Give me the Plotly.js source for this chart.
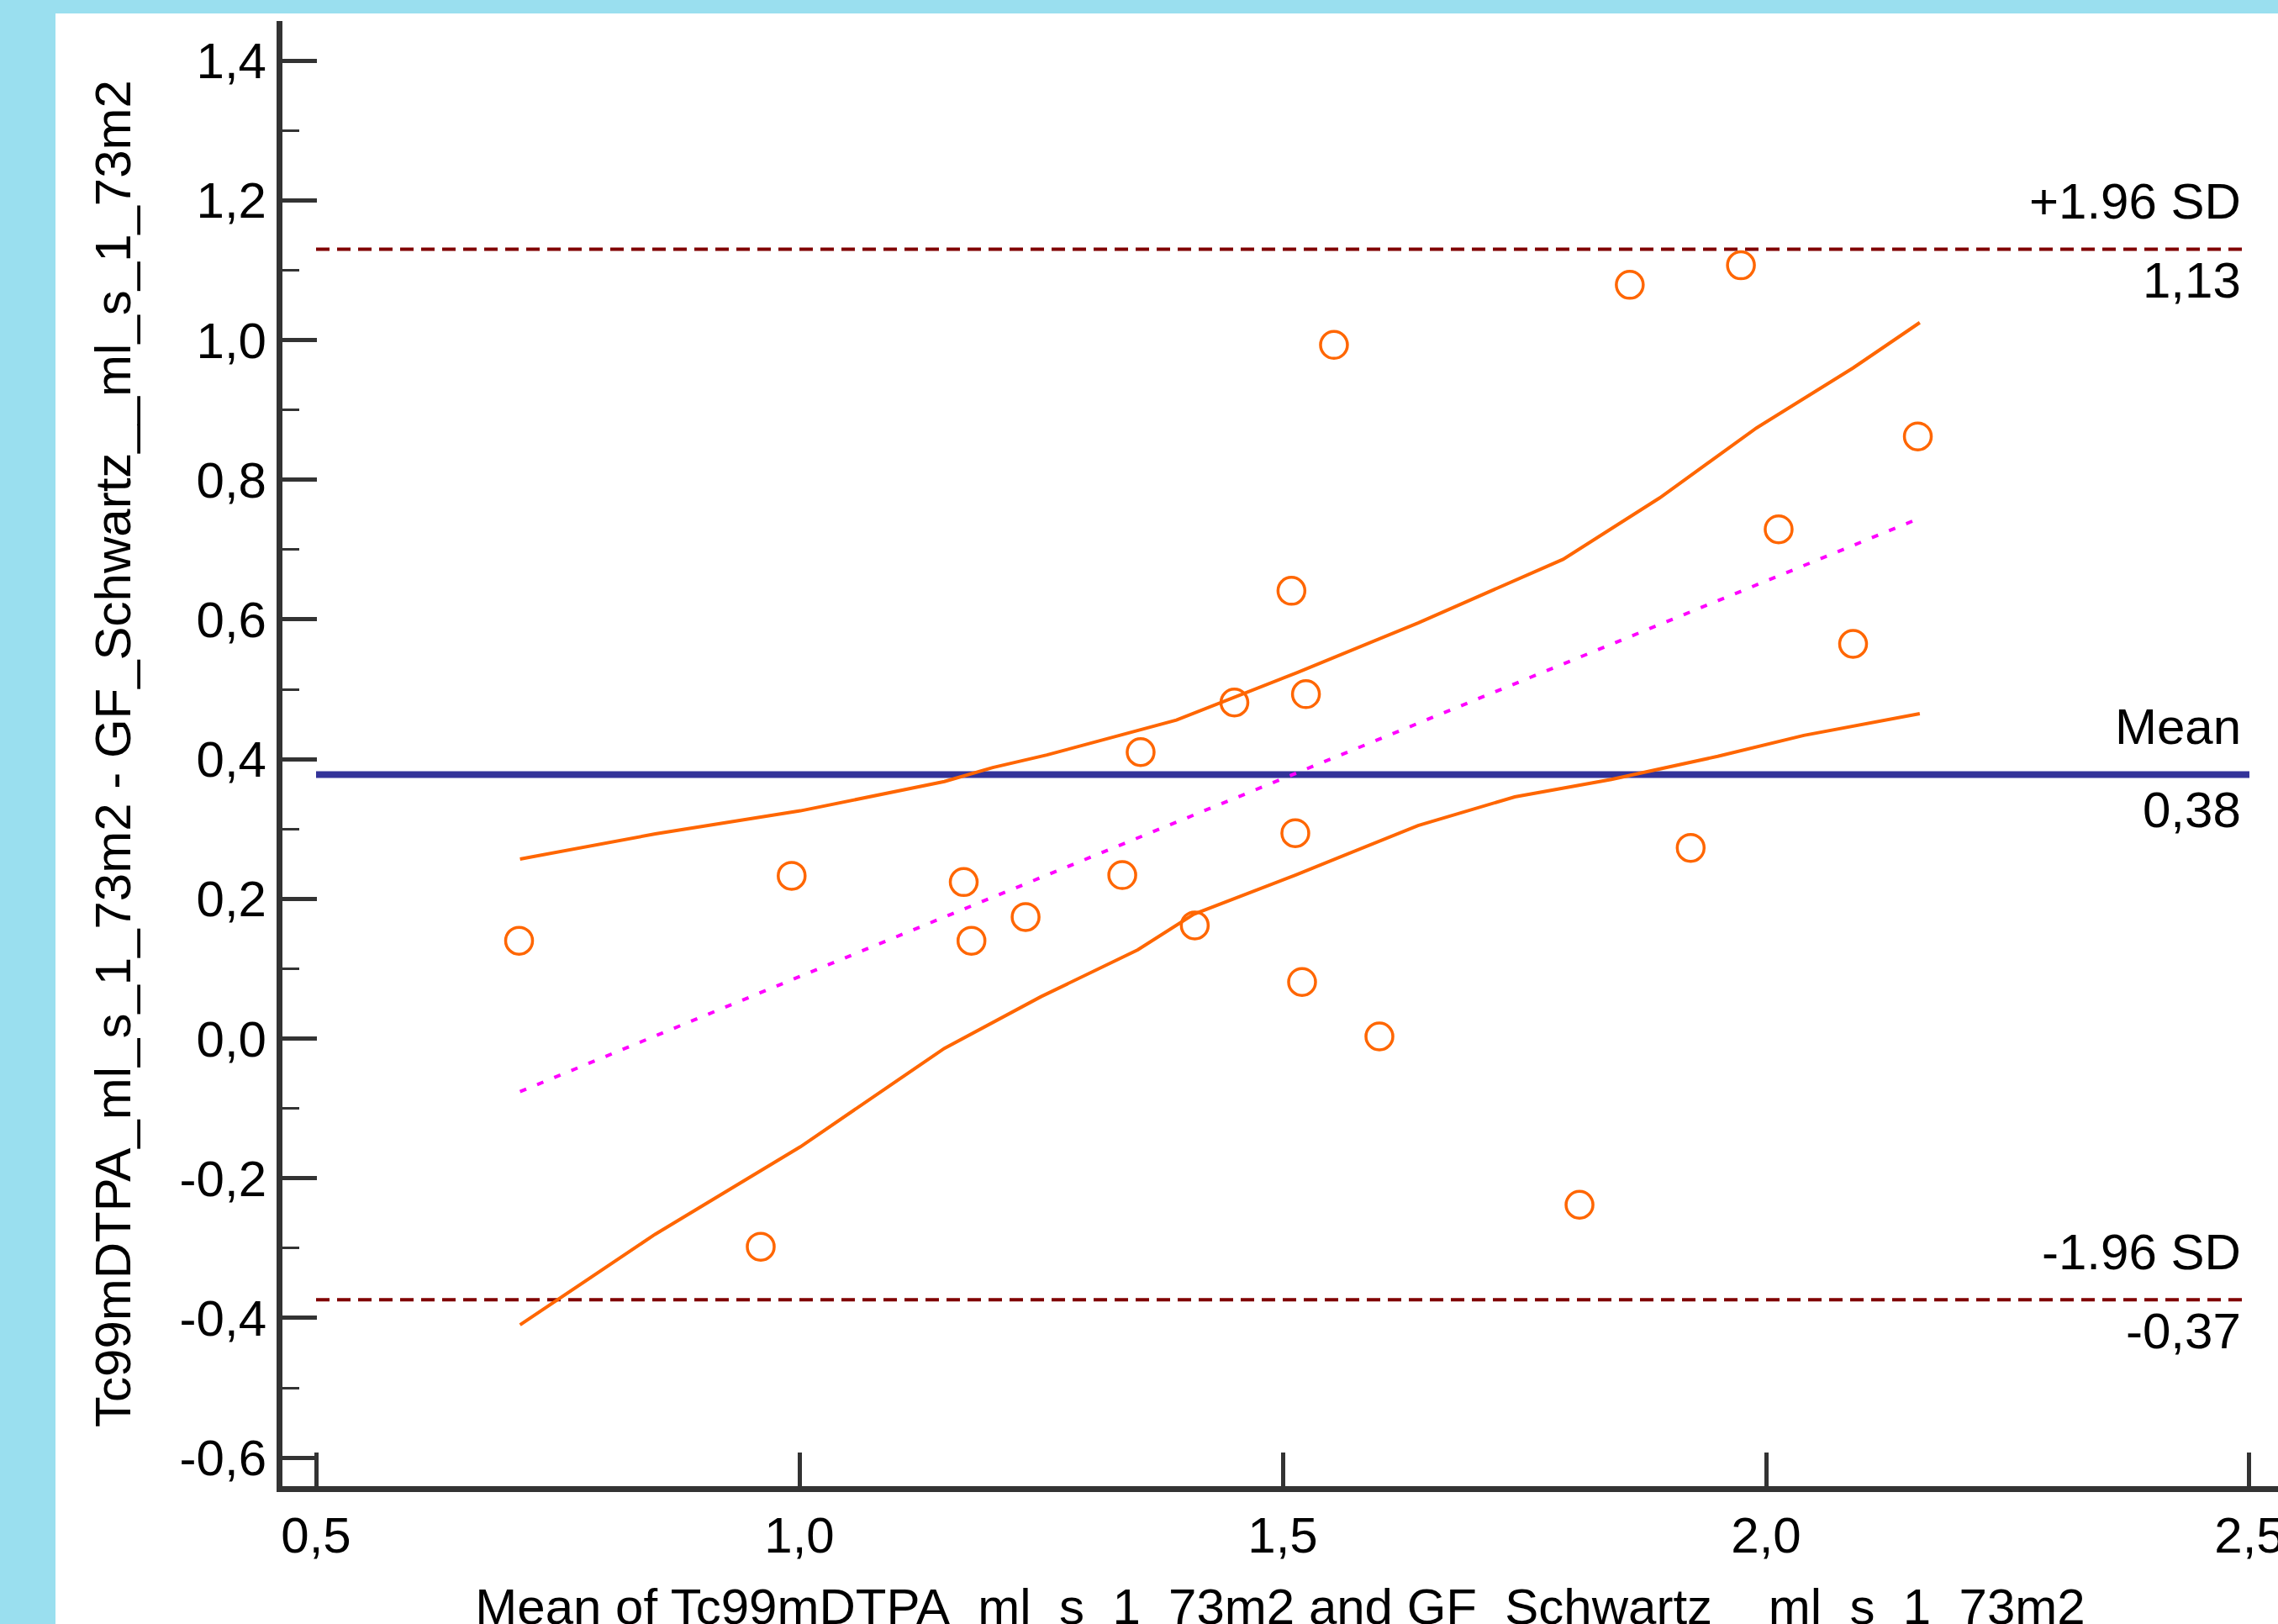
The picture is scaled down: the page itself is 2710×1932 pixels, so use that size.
<!DOCTYPE html>
<html>
<head>
<meta charset="utf-8">
<script src="https://cdn.plot.ly/plotly-3.0.1.min.js"></script>
<style>
  html, body { margin: 0; padding: 0; background: #9ADFEF; width: 2710px; height: 1932px; overflow: hidden; }
  #chart { position: absolute; left: 66px; top: 16px; width: 2720px; height: 2000px; background: #ffffff; }
</style>
</head>
<body>
<div id="chart"></div>
<script>
// Bland-Altman data
const meanValues = [0.710, 0.960, 0.992, 1.170, 1.178, 1.234, 1.334, 1.353, 1.409, 1.450, 1.509, 1.513, 1.520, 1.524, 1.553, 1.600, 1.807, 1.859, 1.922, 1.974, 2.013, 2.090, 2.157];
const diffValues = [0.140, -0.298, 0.233, 0.224, 0.140, 0.174, 0.234, 0.410, 0.162, 0.481, 0.641, 0.294, 0.081, 0.493, 0.993, 0.003, -0.238, 1.079, 0.273, 1.107, 0.729, 0.565, 0.862];

// Regression line of differences
const regX = [0.711, 1.150, 2.159];
const regY = [-0.076, 0.174, 0.745];

// 95% confidence band of the regression line
const upperX = [0.711, 0.851, 1.001, 1.150, 1.200, 1.256, 1.390, 1.515, 1.640, 1.790, 1.890, 1.990, 2.090, 2.159];
const upperY = [0.257, 0.293, 0.326, 0.368, 0.388, 0.406, 0.456, 0.524, 0.595, 0.686, 0.774, 0.874, 0.960, 1.025];
const lowerX = [0.711, 0.851, 1.001, 1.150, 1.250, 1.350, 1.408, 1.513, 1.640, 1.740, 1.840, 1.950, 2.039, 2.159];
const lowerY = [-0.410, -0.280, -0.155, -0.014, 0.060, 0.127, 0.178, 0.234, 0.305, 0.346, 0.371, 0.404, 0.434, 0.465];

// Mean difference and limits of agreement
const lineX = [0.5, 2.5];
const meanDiff = 0.378;
const upperLoA = 1.130;
const lowerLoA = -0.374;
const refLabels = ['+1.96 SD', 'Mean', '-1.96 SD'];
const refValueText = ['1,13', '0,38', '-0,37'];

// Axis ticks
const xTickVals = [0.5, 1.0, 1.5, 2.0, 2.5];
const xTickText = ['0,5', '1,0', '1,5', '2,0', '2,5'];
const yTickVals = [-0.6, -0.4, -0.2, 0.0, 0.2, 0.4, 0.6, 0.8, 1.0, 1.2, 1.4];
const yTickText = ['-0,6', '-0,4', '-0,2', '0,0', '0,2', '0,4', '0,6', '0,8', '1,0', '1,2', '1,4'];

const xTitle = 'Mean of Tc99mDTPA_ml_s_1_73m2 and GF_Schwartz__ml_s_1_73m2';
const yTitle = 'Tc99mDTPA_ml_s_1_73m2 - GF_Schwartz__ml_s_1_73m2';

const FONT = 'Liberation Sans, Arial, sans-serif';
const ORANGE = '#FF6600';
const DARKRED = '#800000';
const NAVY = '#333399';

const traces = [
  { x: lineX, y: [upperLoA, upperLoA], mode: 'lines', line: { color: DARKRED, width: 4, dash: '16px,9px' }, hoverinfo: 'skip' },
  { x: lineX, y: [lowerLoA, lowerLoA], mode: 'lines', line: { color: DARKRED, width: 4, dash: '16px,9px' }, hoverinfo: 'skip' },
  { x: lineX, y: [meanDiff, meanDiff], mode: 'lines', line: { color: NAVY, width: 8 }, hoverinfo: 'skip' },
  { x: upperX, y: upperY, mode: 'lines', line: { color: ORANGE, width: 4 }, hoverinfo: 'skip' },
  { x: lowerX, y: lowerY, mode: 'lines', line: { color: ORANGE, width: 4 }, hoverinfo: 'skip' },
  { x: regX, y: regY, mode: 'lines', line: { color: '#FF00FF', width: 4, dash: '8px,14px' }, hoverinfo: 'skip' },
  { x: meanValues, y: diffValues, mode: 'markers', marker: { symbol: 'circle-open', size: 32, color: ORANGE, line: { color: ORANGE, width: 3.5 } } }
];

const annX = 2.493;
const annFont = { family: FONT, size: 60, color: '#000000' };
const refYs = [upperLoA, meanDiff, lowerLoA];
const annotations = [];
refYs.forEach((v, i) => {
  annotations.push({ x: annX, y: v, xref: 'x', yref: 'y', text: refLabels[i], showarrow: false, xanchor: 'right', yanchor: 'middle', yshift: 57, font: annFont });
  annotations.push({ x: annX, y: v, xref: 'x', yref: 'y', text: refValueText[i], showarrow: false, xanchor: 'right', yanchor: 'middle', yshift: i === 1 ? -42 : -37, font: annFont });
});

const layout = {
  width: 2720,
  height: 2000,
  margin: { l: 270, r: 76, t: 9, b: 248 },
  paper_bgcolor: '#ffffff',
  plot_bgcolor: '#ffffff',
  showlegend: false,
  separators: ',.',
  font: { family: FONT, size: 60, color: '#000000' },
  xaxis: {
    range: [0.46522, 2.52957],
    tickvals: xTickVals,
    ticktext: xTickText,
    ticks: 'inside',
    ticklen: 40,
    tickwidth: 5,
    tickcolor: '#333333',
    showline: true,
    linecolor: '#333333',
    linewidth: 7,
    showgrid: false,
    zeroline: false,
    ticklabeloverflow: 'allow',
    tickfont: { family: FONT, size: 60, color: '#000000' },
    title: { text: xTitle, font: { family: FONT, size: 60, color: '#000000' }, standoff: 33 },
    automargin: false
  },
  yaxis: {
    range: [-0.64079, 1.45668],
    tickvals: yTickVals,
    ticktext: yTickText,
    ticks: 'inside',
    ticklen: 41,
    tickwidth: 5,
    tickcolor: '#333333',
    minor: { dtick: 0.1, tick0: 0, ticks: 'inside', ticklen: 20, tickwidth: 3, tickcolor: '#333333', showgrid: false },
    showline: true,
    linecolor: '#333333',
    linewidth: 7,
    showgrid: false,
    zeroline: false,
    tickfont: { family: FONT, size: 60, color: '#000000' },
    title: { text: yTitle, font: { family: FONT, size: 60, color: '#000000' }, standoff: 41 },
    automargin: false
  },
  annotations: annotations
};

Plotly.newPlot('chart', traces, layout, { staticPlot: true, displayModeBar: false });
</script>
</body>
</html>
